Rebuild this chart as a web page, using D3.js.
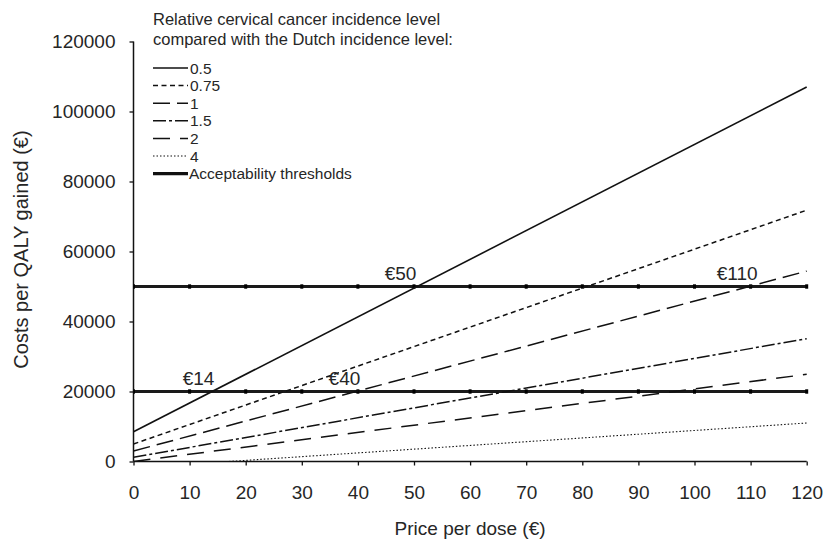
<!DOCTYPE html>
<html>
<head>
<meta charset="utf-8">
<script src="https://cdnjs.cloudflare.com/ajax/libs/d3/7.8.5/d3.min.js"></script>
<style>
  html, body { margin: 0; padding: 0; background: #fff; }
  svg { display: block; }
  svg text { font-family: "Liberation Sans", Arial, sans-serif; fill: #262626; }
</style>
</head>
<body>
<svg id="chart" width="826" height="544"></svg>
<script>
// ---- data ----
const levels = ["0.5", "0.75", "1", "1.5", "2", "4"];
const priceStart = [0, 0, 0, 0, 0, 17];
const costAtStart = [8500, 5000, 3000, 1200, 0, 0];
const priceEnd = [120, 120, 120, 120, 120, 120];
const costAtEnd = [107000, 71800, 54400, 35100, 24900, 11000];
const dashPatterns = ["none", "5,3.5", "17,7", "13,3,3,3", "17,10", "1.5,2"];
const lineWidths = [1.6, 1.5, 1.5, 1.5, 1.5, 1.1];

const thresholds = [20000, 50000];
const thresholdMarkerPrices = [0, 10, 20, 30, 40, 50, 60, 70, 80, 90, 100, 110, 120];

const crossLabels = ["€14", "€50", "€40", "€110"];
const crossPrices = [14, 50, 40, 110];
const crossThresholds = [20000, 50000, 20000, 50000];

const xTicks = [0, 10, 20, 30, 40, 50, 60, 70, 80, 90, 100, 110, 120];
const yTicks = [0, 20000, 40000, 60000, 80000, 100000, 120000];

const legendTitle = ["Relative cervical cancer incidence level", "compared with the Dutch incidence level:"];
const thresholdLegend = "Acceptability thresholds";
const xTitle = "Price per dose (€)";
const yTitle = "Costs per QALY gained (€)";

// ---- layout ----
const svg = d3.select("#chart");
const x = d3.scaleLinear().domain([0, 120]).range([133.5, 806.7]);
const y = d3.scaleLinear().domain([0, 120000]).range([461.5, 41.5]);

svg.append("defs").append("clipPath").attr("id", "plotclip")
  .append("rect").attr("x", x(0)).attr("y", y(120000) - 5)
  .attr("width", x(120) - x(0) + 3).attr("height", y(0) - y(120000) + 5);

// axes
const xAxis = d3.axisBottom(x).tickValues(xTicks).tickSize(4).tickPadding(20).tickFormat(d3.format("d"));
const yAxis = d3.axisLeft(y).tickValues(yTicks).tickSize(4).tickPadding(14).tickFormat(d3.format("d"));

const gx = svg.append("g").attr("transform", `translate(0,${y(0)})`).call(xAxis);
const gy = svg.append("g").attr("transform", `translate(${x(0)},0)`).call(yAxis);
[gx, gy].forEach(g => {
  g.attr("font-family", null);
  g.select(".domain").attr("stroke", "#111").attr("stroke-width", 1.5);
  g.selectAll(".tick line").attr("stroke", "#111").attr("stroke-width", 1.3);
  g.selectAll(".tick text").style("font-size", "19px").style("fill", "#262626");
});
gy.select(".domain").attr("d", `M0,${y(120000)}V${y(0)}`);
gx.select(".domain").attr("d", `M${x(0)},0H${x(120)}`);

// axis titles
svg.append("text").attr("x", (x(0) + x(120)) / 2).attr("y", 535)
  .attr("text-anchor", "middle").style("font-size", "19px").text(xTitle);
svg.append("text").attr("transform", `translate(28,${(y(0) + y(120000)) / 2 - 2}) rotate(-90)`)
  .attr("text-anchor", "middle").style("font-size", "20px").text(yTitle);

const plot = svg.append("g").attr("clip-path", "url(#plotclip)");

// threshold lines
thresholds.forEach(t => {
  plot.append("line").attr("x1", x(0)).attr("x2", x(120))
    .attr("y1", y(t)).attr("y2", y(t))
    .attr("stroke", "#1a1a1a").attr("stroke-width", 3.2);
  plot.selectAll(null).data(thresholdMarkerPrices).enter().append("rect")
    .attr("x", d => x(d) - 1.5).attr("y", y(t) - 2.2)
    .attr("width", 3).attr("height", 4.4).attr("fill", "#000");
});

// incidence lines
const line = d3.line().x(d => x(d[0])).y(d => y(d[1]));
levels.forEach((lv, i) => {
  plot.append("path")
    .attr("d", line([[priceStart[i], costAtStart[i]], [priceEnd[i], costAtEnd[i]]]))
    .attr("fill", "none").attr("stroke", "#111")
    .attr("stroke-width", lineWidths[i])
    .attr("stroke-dasharray", dashPatterns[i]);
});

// crossing labels
crossLabels.forEach((lab, i) => {
  svg.append("text").attr("x", x(crossPrices[i] - 2.4)).attr("y", y(crossThresholds[i]) - 7)
    .attr("text-anchor", "middle").style("font-size", "19px").text(lab);
});

// legend
const lg = svg.append("g");
legendTitle.forEach((t, i) => {
  lg.append("text").attr("x", 153).attr("y", 25 + i * 20).style("font-size", "16.5px").text(t);
});
const entryStep = 17.6;
const entryY = i => 68 + i * entryStep;
levels.forEach((lv, i) => {
  const yy = entryY(i);
  lg.append("line").attr("x1", 153).attr("x2", 188).attr("y1", yy).attr("y2", yy)
    .attr("stroke", "#111").attr("stroke-width", lineWidths[i])
    .attr("stroke-dasharray", dashPatterns[i]);
  lg.append("text").attr("x", 190).attr("y", yy + 5.5)
    .style("font-size", "15.5px").text(lv);
});
{
  const yy = entryY(levels.length);
  lg.append("line").attr("x1", 153).attr("x2", 188).attr("y1", yy).attr("y2", yy)
    .attr("stroke", "#111").attr("stroke-width", 3.2);
  lg.append("text").attr("x", 189).attr("y", yy + 5.5)
    .style("font-size", "15.5px").text(thresholdLegend);
}
</script>
</body>
</html>
